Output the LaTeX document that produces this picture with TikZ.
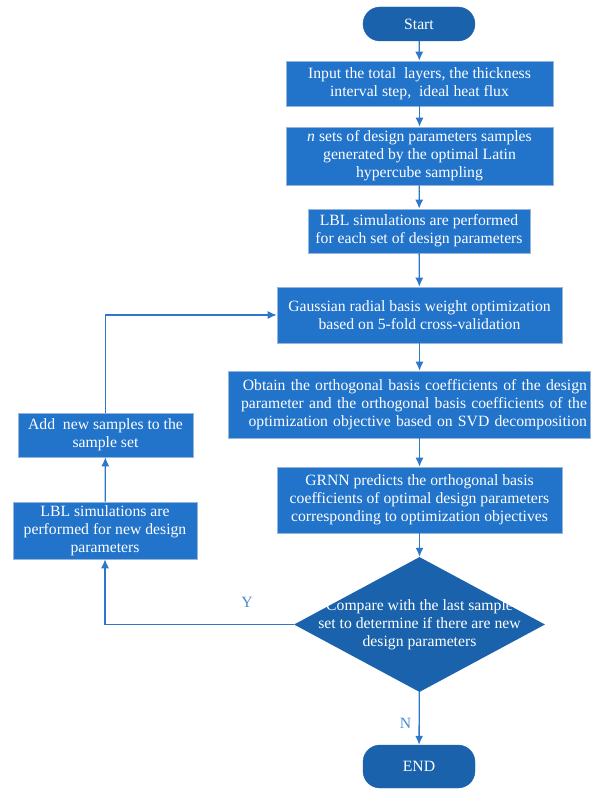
\documentclass[tikz,border=0pt]{standalone}
\usepackage{fontspec}
\setmainfont{Liberation Serif}
\usetikzlibrary{shapes.geometric,arrows.meta}
\definecolor{boxblue}{RGB}{34,115,202}
\definecolor{termblue}{RGB}{26,99,172}
\definecolor{linkblue}{RGB}{46,118,200}
\definecolor{edgeblue}{RGB}{150,182,220}
\tikzset{
  term/.style={fill=termblue, draw=termblue, rounded corners=17bp, minimum width=112bp, text=white, inner sep=0},
  blk/.style={fill=boxblue, draw=edgeblue, line width=0.6bp, text=white, align=center, inner sep=0},
  dec/.style={diamond, fill=termblue, inner sep=0, minimum width=251bp, minimum height=135bp},
  arr/.style={draw=linkblue, line width=1.3bp, -{Latex[length=9bp,width=8bp]}},
  yn/.style={text=linkblue!85!white}
}
\begin{document}
\begin{tikzpicture}[x=1bp, y=-1bp, font=\fontsize{15.7bp}{18bp}\selectfont]
    \useasboundingbox (0,0) rectangle (598,789);
    %terminali
    \node[term, minimum height=34bp] (start) at (419,24) {Start};
    \node[term, minimum height=43bp] (end) at (419,766.5) {END};
    %blocchi colonna centrale
    \node[blk, minimum width=267bp, minimum height=45bp] (inp) at (419.5,83.5) {Input the total\ \ layers, the thickness\\interval step,\ \ ideal heat flux};
    \node[blk, minimum width=267bp, minimum height=58bp] (smp) at (419.5,156) {\textit{n} sets of design parameters samples\\generated by the optimal Latin\\hypercube sampling};
    \node[blk, minimum width=222bp, minimum height=44bp] (lbl) at (419,231) {LBL simulations are performed\\for each set of design parameters};
    \node[blk, minimum width=285bp, minimum height=56bp] (gau) at (419.5,315) {Gaussian radial basis weight optimization\\based on 5-fold cross-validation};
    \node[blk, text width=356bp, align=right, inner xsep=3bp, minimum height=67bp] (obt) at (409,404.5) {Obtain the orthogonal basis coefficients of the design\\parameter and the orthogonal basis coefficients of the\\optimization objective based on SVD decomposition};
    \node[blk, minimum width=285bp, minimum height=66bp] (grnn) at (419.5,500) {GRNN predicts the orthogonal basis\\coefficients of optimal design parameters\\corresponding to optimization objectives};
    %rombo di confronto
    \node[dec] (cmp) at (419.5,624.5) {};
    \node[text=white, align=center] (cmptxt) at (cmp) {Compare with the last sample\\set to determine if there are new\\design parameters};
    %blocchi a sinistra
    \node[blk, minimum width=175bp, minimum height=44bp] (add) at (105.5,435) {Add\ \ new samples to the\\sample set};
    \node[blk, minimum width=184bp, minimum height=57bp] (lbn) at (105,530.5) {LBL simulations are\\performed for new design\\parameters};
    %frecce
    \draw[arr] (start) -- (inp);
    \draw[arr] (inp) -- (smp);
    \draw[arr] (smp) -- (lbl);
    \draw[arr] (lbl) -- (gau);
    \draw[arr] (gau.south) -- (gau.south |- obt.north);
    \draw[arr] (obt.south -| grnn.north) -- (grnn.north);
    \draw[arr] (grnn) -- (cmp);
    \draw[arr] (cmp) -- (end) node[pos=0.6, left=4bp, yn] {N};
    %ramo di ritorno
    \draw[arr] (cmp.west) -| (lbn.south);
    \node[yn] (ylab) at (247,602) {Y};
    \draw[arr] (lbn) -- (add);
    \draw[arr] (add.north) |- (gau.west);
\end{tikzpicture}
\end{document}
